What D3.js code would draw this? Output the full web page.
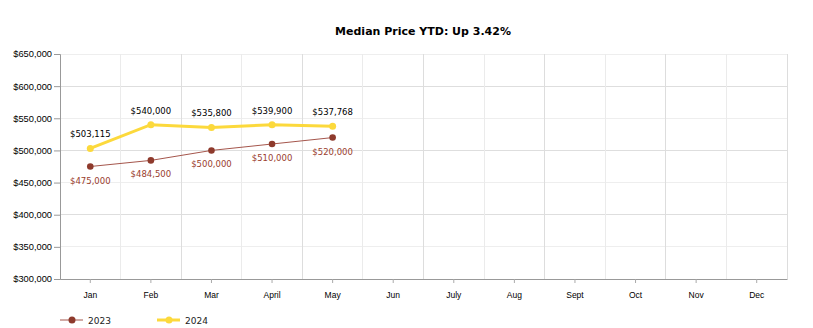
<!DOCTYPE html>
<html><head><meta charset="utf-8">
<script src="https://cdn.jsdelivr.net/npm/d3@7/dist/d3.min.js"></script>
<style>body{margin:0;background:#fff}svg{display:block;font-family:"DejaVu Sans",Verdana,sans-serif}</style>
</head><body>
<svg id="c" width="813" height="328"></svg>
<script>
const months = ["Jan","Feb","Mar","April","May","Jun","July","Aug","Sept","Oct","Nov","Dec"];
const values2023 = [475000,484500,500000,510000,520000];
const values2024 = [503115,540000,535800,539900,537768];
const yTicks = [300000,350000,400000,450000,500000,550000,600000,650000];
const seriesNames = ["2023","2024"];
const title = "Median Price YTD: Up 3.42%";

const svg = d3.select("#c");
const L = 60, R = 787, T = 54, B = 279;
const x = d3.scaleBand().domain(months).range([L, R]);
const y = d3.scaleLinear().domain([300000, 650000]).range([B, T]);
const fmt = v => "$" + d3.format(",")(v);

const c23 = "#8e3a2c", c24 = "#fcd93c";

// gridlines
svg.append("g").selectAll("line").data(yTicks).join("line")
  .attr("x1", L).attr("x2", R).attr("y1", d => y(d)).attr("y2", d => y(d))
  .attr("stroke", d => (d % 100000 === 0) ? "#dedede" : "#eeeeee").attr("shape-rendering","crispEdges");
svg.append("g").selectAll("line").data(months).join("line")
  .attr("x1", d => x(d) + x.bandwidth()).attr("x2", d => x(d) + x.bandwidth())
  .attr("y1", T).attr("y2", B)
  .attr("stroke", (d,i) => i % 2 === 1 ? "#dddddd" : "#ebebeb").attr("shape-rendering","crispEdges");

// y axis
const ya = svg.append("g").attr("transform", `translate(${L},0)`)
  .call(d3.axisLeft(y).tickValues(yTicks).tickFormat(fmt).tickSize(6));
ya.select(".domain").attr("stroke", "#999");
ya.selectAll(".tick line").attr("stroke", "#999");
ya.selectAll("text").attr("font-size", 9.3).attr("fill", "#000").attr("x", -8);

// x axis
const xa = svg.append("g").attr("transform", `translate(0,${B})`)
  .call(d3.axisBottom(x).tickSize(4).tickSizeOuter(0));
xa.select(".domain").attr("stroke", "#999");
xa.selectAll(".tick line").attr("stroke", "#aaa");
xa.selectAll("text").attr("font-size", 8.5).attr("fill", "#000").attr("dy", "1.4em");

const cx = i => x(months[i]) + x.bandwidth() / 2;
const line = d3.line().x((d,i) => cx(i)).y(d => y(d));

// 2023
svg.append("path").datum(values2023).attr("d", line).attr("fill", "none")
  .attr("stroke", "#a5564c").attr("stroke-width", 1);
svg.append("g").selectAll("circle").data(values2023).join("circle")
  .attr("cx", (d,i) => cx(i)).attr("cy", d => y(d)).attr("r", 3.3).attr("fill", c23);
svg.append("g").selectAll("text").data(values2023).join("text")
  .attr("x", (d,i) => cx(i)).attr("y", d => y(d) + 17).attr("text-anchor", "middle")
  .attr("font-size", 8.5).attr("fill", "#9a3d2e").text(fmt);

// 2024
svg.append("path").datum(values2024).attr("d", line).attr("fill", "none")
  .attr("stroke", c24).attr("stroke-width", 3);
svg.append("g").selectAll("circle").data(values2024).join("circle")
  .attr("cx", (d,i) => cx(i)).attr("cy", d => y(d)).attr("r", 3.5).attr("fill", c24);
svg.append("g").selectAll("text").data(values2024).join("text")
  .attr("x", (d,i) => cx(i)).attr("y", d => y(d) - 11).attr("text-anchor", "middle")
  .attr("font-size", 8.5).attr("fill", "#000").text(fmt);

// title
svg.append("text").attr("x", 423).attr("y", 35).attr("text-anchor", "middle")
  .attr("font-size", 11).attr("font-weight", "bold").attr("fill", "#000").text(title);

// legend
const lg = svg.append("g");
const legendItems = [{n: seriesNames[0], x: 60, c: "#a5564c", dc: c23, w: 1}, {n: seriesNames[1], x: 157, c: c24, dc: c24, w: 3}];
legendItems.forEach(it => {
  lg.append("line").attr("x1", it.x).attr("x2", it.x + 23).attr("y1", 320).attr("y2", 320)
    .attr("stroke", it.c).attr("stroke-width", it.w);
  lg.append("circle").attr("cx", it.x + 12).attr("cy", 320).attr("r", 3.5).attr("fill", it.dc);
  lg.append("text").attr("x", it.x + 28).attr("y", 323.5).attr("font-size", 9).attr("fill", "#222").text(it.n);
});
</script>
</body></html>
